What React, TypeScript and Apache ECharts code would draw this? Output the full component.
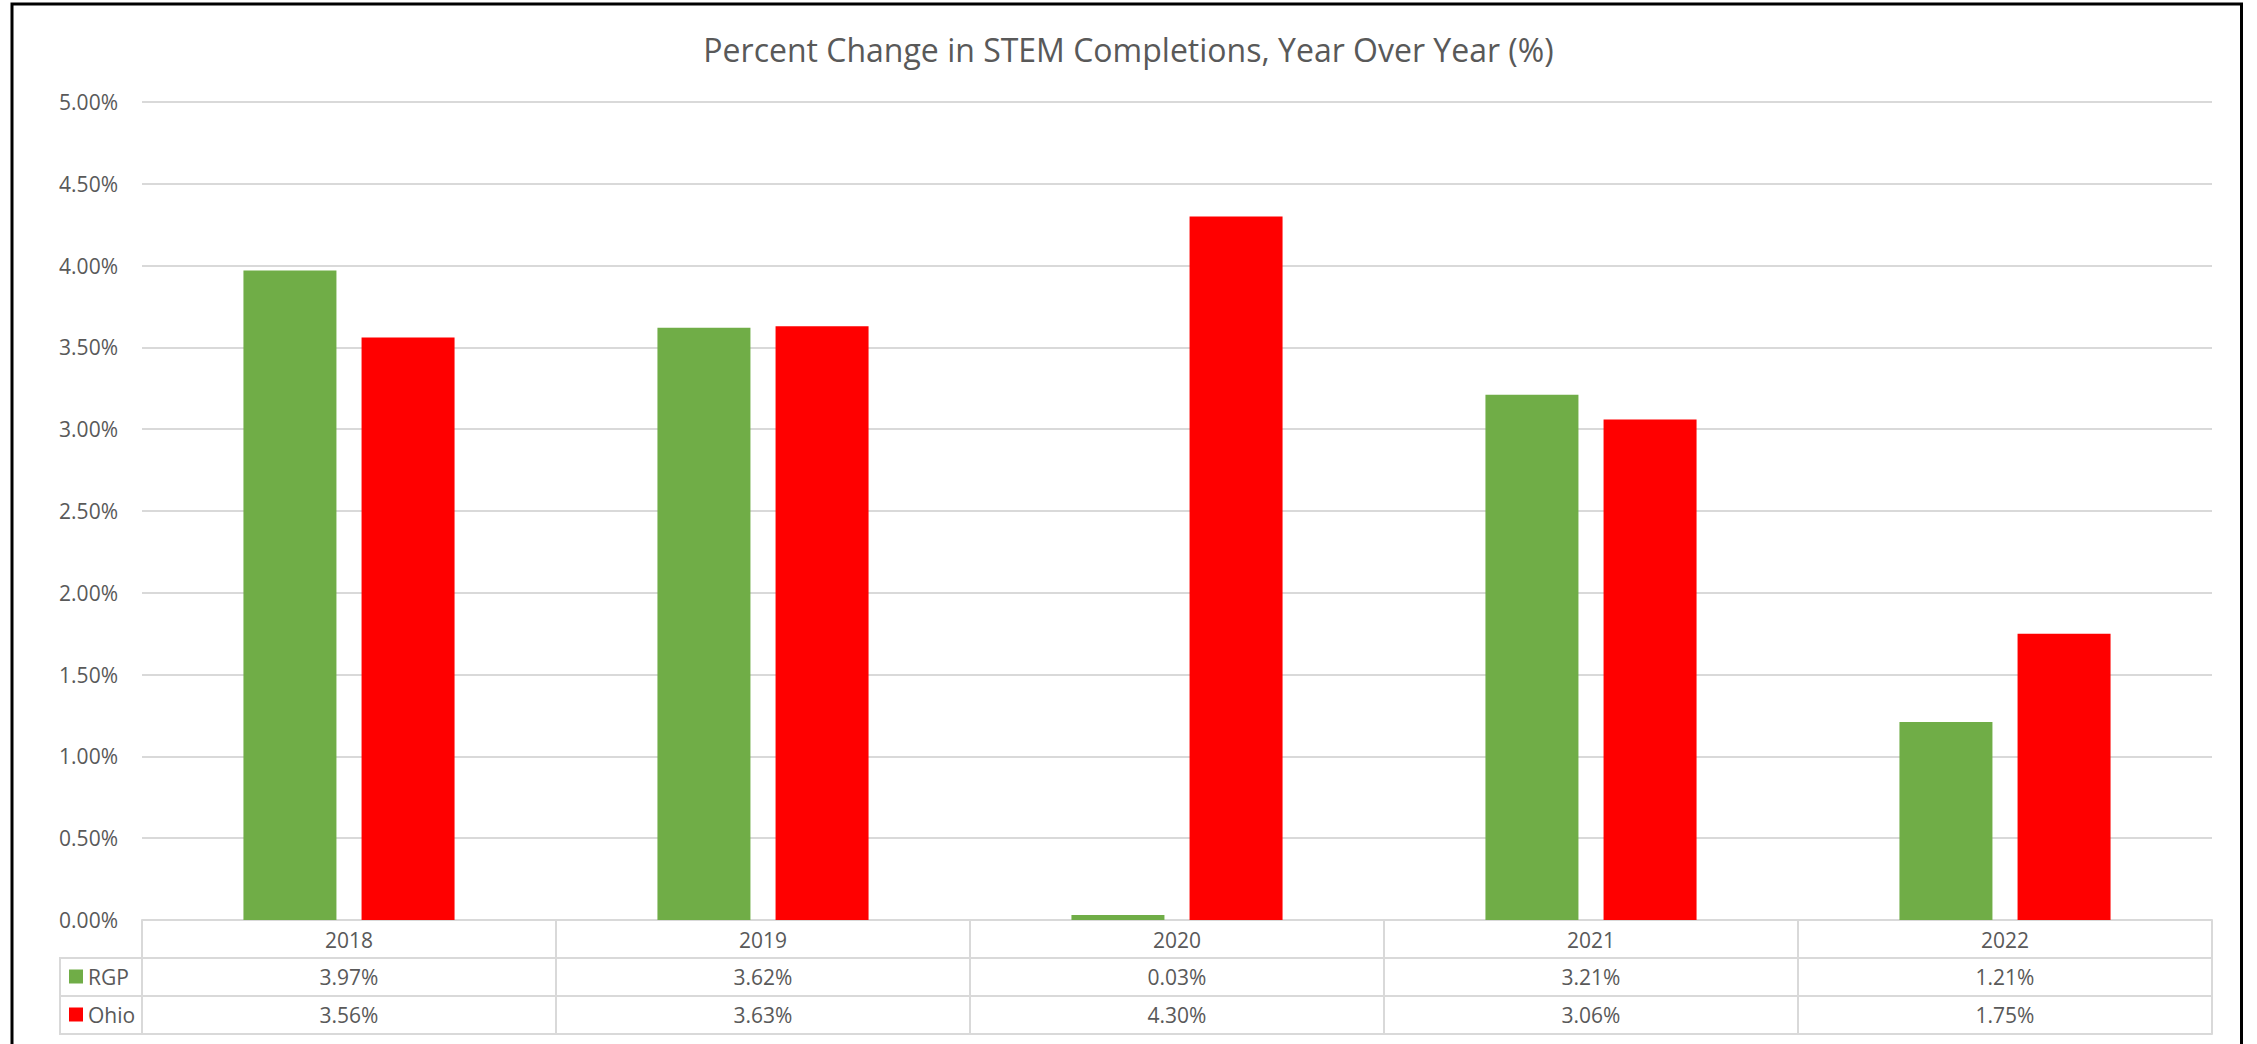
import React, { useEffect, useRef } from "react";
import * as echarts from "echarts";

const TITLE = "Percent Change in STEM Completions, Year Over Year (%)";
const years = ["2018", "2019", "2020", "2021", "2022"];
const seriesNames = ["RGP", "Ohio"];
const rgpValues = [3.97, 3.62, 0.03, 3.21, 1.21];
const ohioValues = [3.56, 3.63, 4.3, 3.06, 1.75];
const yMin = 0;
const yMax = 5;
const yInterval = 0.5;

const W = 2257;
const H = 1044;
const FONT = "'Open Sans', sans-serif";
const TEXT = "#595959";
const LINE = "#D9D9D9";
const GREEN = "#70AD47";
const RED = "#FF0000";

const fmt = (v: number) => v.toFixed(2) + "%";

export default function App() {
  const ref = useRef<HTMLDivElement>(null);
  useEffect(() => {
    if (!ref.current) return;
    const chart = echarts.init(ref.current, null, { renderer: "svg" });
    const gridLeft = 142;
    const gridRight = 2212;
    const axisY = 920;
    const rowH = 38;
    const tableLeft = 60;

    const labelStyle = { fontFamily: FONT, fontSize: 21, color: TEXT };

    const extraAxis = (data: string[], offset: number, showLabel: boolean) => ({
      type: "category",
      gridIndex: 0,
      position: "bottom",
      offset,
      data,
      axisLine: { show: true, lineStyle: { color: LINE, width: 2 } },
      axisTick: { show: false },
      axisLabel: { show: showLabel, margin: 8, ...labelStyle },
      splitLine: { show: false },
    });

    chart.setOption({
      animation: false,
      backgroundColor: "#ffffff",
      title: {
        text: TITLE,
        left: "center",
        top: 28,
        textStyle: { fontFamily: FONT, fontSize: 32, fontWeight: "normal", color: TEXT },
      },
      legend: {
        orient: "vertical",
        left: 69,
        top: 966,
        padding: 0,
        itemWidth: 14,
        itemHeight: 14,
        itemGap: 17,
        icon: "rect",
        data: seriesNames,
        textStyle: { ...labelStyle },
        selectedMode: false,
      },
      grid: {
        left: gridLeft,
        right: W - gridRight,
        top: 102,
        bottom: H - axisY,
        containLabel: false,
      },
      xAxis: [
        {
          type: "category",
          data: years,
          axisLine: { show: true, lineStyle: { color: LINE, width: 2 } },
          axisTick: { show: true, length: rowH * 3, lineStyle: { color: LINE, width: 2 } },
          axisLabel: { margin: 9, ...labelStyle },
          splitLine: { show: false },
        },
        extraAxis(rgpValues.map(fmt), rowH, true),
        extraAxis(ohioValues.map(fmt), rowH * 2, true),
        extraAxis(years, rowH * 3, false),
      ],
      yAxis: {
        type: "value",
        min: yMin,
        max: yMax,
        interval: yInterval,
        axisLine: { show: false },
        axisTick: { show: false },
        axisLabel: { margin: 24, formatter: (v: number) => fmt(v), ...labelStyle },
        splitLine: { lineStyle: { color: LINE, width: 2 } },
      },
      series: [
        {
          name: seriesNames[0],
          type: "bar",
          data: rgpValues,
          barWidth: 93,
          barGap: "27%",
          itemStyle: { color: GREEN },
        },
        {
          name: seriesNames[1],
          type: "bar",
          data: ohioValues,
          barWidth: 93,
          barGap: "27%",
          itemStyle: { color: RED },
        },
      ],
      graphic: [
        {
          type: "rect",
          shape: { x: 12, y: 4, width: 2229.5, height: 1100 },
          style: { fill: "none", stroke: "#000", lineWidth: 3 },
          silent: true,
        },
        {
          type: "line",
          shape: { x1: tableLeft, y1: axisY + rowH, x2: gridLeft, y2: axisY + rowH },
          style: { stroke: LINE, lineWidth: 2 },
        },
        {
          type: "line",
          shape: { x1: tableLeft, y1: axisY + rowH * 2, x2: gridLeft, y2: axisY + rowH * 2 },
          style: { stroke: LINE, lineWidth: 2 },
        },
        {
          type: "line",
          shape: { x1: tableLeft, y1: axisY + rowH * 3, x2: gridLeft, y2: axisY + rowH * 3 },
          style: { stroke: LINE, lineWidth: 2 },
        },
        {
          type: "line",
          shape: { x1: tableLeft, y1: axisY + rowH - 1, x2: tableLeft, y2: axisY + rowH * 3 + 1 },
          style: { stroke: LINE, lineWidth: 2 },
        },
      ],
    });
    return () => chart.dispose();
  }, []);
  return (
    <div
      ref={ref}
      style={{ position: "fixed", left: 0, top: 0, width: W, height: H, background: "#fff" }}
    />
  );
}
